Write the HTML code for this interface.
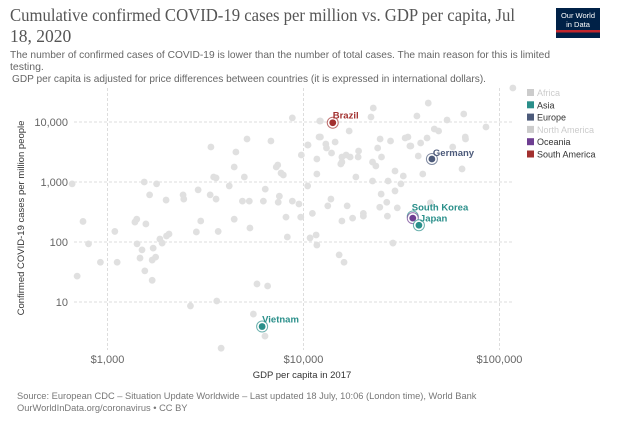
<!DOCTYPE html>
<html><head><meta charset="utf-8">
<style>
body{margin:0;background:#fff;width:623px;height:422px;overflow:hidden;font-family:"Liberation Sans",sans-serif;}
svg{display:block}
</style></head>
<body>
<svg id="chart" width="623" height="422" viewBox="0 0 623 422" xmlns="http://www.w3.org/2000/svg">
<g>
<text x="10" y="21" font-family="Liberation Serif, serif" font-size="17.5" fill="#555" textLength="505" lengthAdjust="spacingAndGlyphs">Cumulative confirmed COVID-19 cases per million vs. GDP per capita, Jul</text>
<text x="10" y="42" font-family="Liberation Serif, serif" font-size="17.5" fill="#555">18, 2020</text>
<text x="10" y="58" font-size="10.5" fill="#666" textLength="540" lengthAdjust="spacingAndGlyphs">The number of confirmed cases of COVID-19 is lower than the number of total cases. The main reason for this is limited</text>
<text x="10" y="70" font-size="10.5" fill="#666">testing.</text>
<text x="12" y="82" font-size="10.5" fill="#666" textLength="474" lengthAdjust="spacingAndGlyphs">GDP per capita is adjusted for price differences between countries (it is expressed in international dollars).</text>
</g>
<g>
<rect x="556" y="8" width="44" height="30" fill="#002147"/>
<rect x="556" y="30" width="44" height="2.5" fill="#c0262d"/>
<text x="578" y="18" font-size="7.5" fill="#fff" text-anchor="middle">Our World</text>
<text x="578" y="27" font-size="7.5" fill="#fff" text-anchor="middle">in Data</text>
</g>
<g id="grid"></g>
<g id="axes"></g>
<g id="points"></g>
<g id="highlights"></g>
<text transform="translate(24,218) rotate(-90)" font-size="9.5" fill="#333" text-anchor="middle">Confirmed COVID-19 cases per million people</text>
<text x="302" y="378" font-size="9.5" fill="#333" text-anchor="middle">GDP per capita in 2017</text>
<g id="legend"></g>
<text x="17" y="399" font-size="9.3" fill="#777">Source: European CDC – Situation Update Worldwide – Last updated 18 July, 10:06 (London time), World Bank</text>
<text x="17" y="411" font-size="9.3" fill="#777">OurWorldInData.org/coronavirus • CC BY</text>
</svg>
<script>
const gdp = [660,750,700,800,920,1120,1090,1380,1410,1415,1465,1500,1550,1570,1540,1640,1780,1690,1760,1710,1690,1850,1900,2000,2060,1990,2430,2450,2650,2840,2900,2990,3370,3340,3480,3580,3580,3670,3610,3800,4180,4430,4520,4430,4990,4880,5290,5150,5330,5790,5550,6360,6560,6240,6380,6820,7260,7390,7680,7890,7530,7430,8140,8270,8770,8770,9480,9680,9750,10500,10500,11100,10800,11600,11700,11700,11700,12000,12100,117000,22700,22100,43300,37900,65700,54000,12200,17100,12200,10550,13000,13100,14500,13900,15700,16500,17300,15500,15700,19000,19100,24600,23900,25000,27800,22500,23400,33000,34100,34900,35300,39600,42700,46500,48900,57700,66900,67100,85300,38500,64400,18500,29300,32300,40600,22500,27000,31400,29300,24900,13800,13300,16700,26600,24500,30100,44400,20200,20200,17800,15700,26800,28600,15200,16100];
const cases = [930,220,27,93,46,46,150,215,240,93,54,74,33,200,1000,610,930,50,56,79,23,112,96,126,136,500,610,520,8.6,147,740,224,3830,610,1210,1170,520,150,10.4,1.7,860,1780,3160,240,1210,480,480,5210,171,20,6.3,2.7,18.5,480,760,4820,1780,1920,1410,1310,580,460,260,121,480,11700,430,260,2820,4140,860,300,117,131,89,2420,1360,5620,10400,36900,17100,12100,20700,12600,13600,10800,10400,7080,5620,4140,4300,3690,4640,3040,2610,2820,2610,2000,2150,2610,3290,5210,3690,2610,4820,2150,1850,5410,5620,3980,3980,4470,5410,7650,7080,3830,5620,5210,8250,2710,1650,1210,1525,1260,1360,1040,1040,930,710,630,520,400,400,460,380,370,450,300,270,250,224,270,96,61,46];
const hlNames = ["Brazil","Germany","South Korea","New Zealand","Japan","Vietnam"];
const hlGdp = [14100,45200,36100,36100,38800,6150];
const hlCases = [9730,2420,266,250,190,3.9];
const hlColors = ["#a2302f","#4c5a7a","#2a8f8a","#6d3e91","#2a8f8a","#2a8f8a"];
const hlLabelShow = [true,true,true,false,true,true];
const xTicks = [1000,10000,100000];
const xTickLabels = ["$1,000","$10,000","$100,000"];
const yTicks = [10,100,1000,10000];
const yTickLabels = ["10","100","1,000","10,000"];
const legendNames = ["Africa","Asia","Europe","North America","Oceania","South America"];
const legendColors = ["#ccc","#2a8f8a","#4c5a7a","#ccc","#6d3e91","#a2302f"];
const legendText = ["#ccc","#333","#333","#ccc","#333","#333"];

const NS="http://www.w3.org/2000/svg";
const xs=v=>107.5+196*Math.log10(v/1000);
const ys=v=>122-60*Math.log10(v/10000);
function mk(tag,attrs,parent){const e=document.createElementNS(NS,tag);for(const k in attrs)e.setAttribute(k,attrs[k]);parent.appendChild(e);return e;}
const grid=document.getElementById('grid'),axes=document.getElementById('axes');
xTicks.forEach((t,i)=>{
  const l=mk('line',{x1:xs(t),x2:xs(t),y1:88,y2:350,stroke:'#ddd','stroke-dasharray':'3,2'},grid);
  
  
  const tx=mk('text',{x:xs(t),y:363,'font-size':'11',fill:'#666','text-anchor':'middle'},axes);
  tx.textContent=xTickLabels[i];
  
  
});
yTicks.forEach((t,i)=>{
  const l=mk('line',{x1:74,x2:512,y1:ys(t),y2:ys(t),stroke:'#ddd','stroke-dasharray':'3,2'},grid);
  
  
  const tx=mk('text',{x:68,y:ys(t)+4,'font-size':'11',fill:'#666','text-anchor':'end'},axes);
  tx.textContent=yTickLabels[i];
  
  
});
const pts=document.getElementById('points');
gdp.forEach((g,i)=>{
  const c=mk('circle',{cx:xs(g),cy:ys(cases[i]),r:3.4,fill:'#e0e0e0'},pts);
  
  
});
const hl=document.getElementById('highlights');
const lblOff=[[0,-4],[1,-3],[-1,-6],[0,0],[1,-4],[0,-4]];
hlNames.forEach((n,i)=>{
  const x=xs(hlGdp[i]),y=ys(hlCases[i]);
  const r=mk('circle',{cx:x,cy:y,r:5.5,fill:'#fff',stroke:hlColors[i],'stroke-width':1,'stroke-opacity':0.7},hl);
  
  
  const d=mk('circle',{cx:x,cy:y,r:3.4,fill:hlColors[i]},hl);
  
  
  if(hlLabelShow[i]){
    const t=mk('text',{x:x+lblOff[i][0],y:y+lblOff[i][1],'font-size':'9.5','font-weight':'bold',fill:hlColors[i]},hl);
    t.textContent=n;
    
    
  }
});
const lg=document.getElementById('legend');
legendNames.forEach((n,i)=>{
  const y=93+12.3*i;
  const s=mk('rect',{x:527,y:y-4,width:7,height:7,fill:legendColors[i]},lg);
  
  
  const t=mk('text',{x:537,y:y+3,'font-size':'9',fill:legendText[i]},lg);
  t.textContent=n;
  
  
});
</script>
</body></html>
